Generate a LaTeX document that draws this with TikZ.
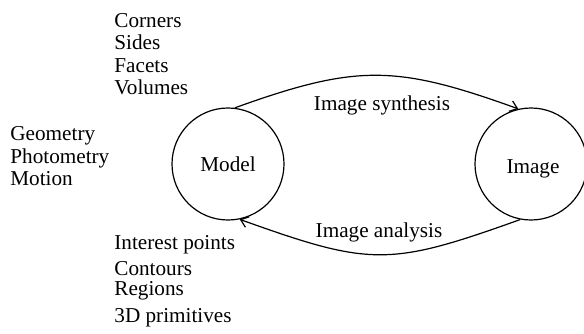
\documentclass[tikz,border=0pt]{standalone}
\usepackage{fontspec}
\setmainfont{Liberation Serif}
\usetikzlibrary{arrows.meta}
\begin{document}
\begin{tikzpicture}[
    x=0.5pt, y=-0.5pt,
    font=\fontsize{10.6}{12}\selectfont,
    blob/.style={draw, circle, line width=0.6pt, minimum size=56pt, inner sep=0pt},
    item/.style={anchor=base west, inner sep=0pt},
    caption/.style={anchor=base, inner sep=0pt},
    flow/.style={-{Straight Barb[length=3.5pt, width=5.5pt]}, line width=0.6pt}
]
\useasboundingbox (0,0) rectangle (584,333);

% The two states
\node[blob] (model) at (228,164) {};
\node[blob] (image) at (531,164) {};
\node[caption] (modeltxt) at (228,171) {Model};
\node[caption] (imagetxt) at (533,173) {Image};

% Synthesis and analysis
\draw[flow] (model.83) .. controls +(122,-44) and +(-122,-44) .. (image.103);
\draw[flow] (image.259) .. controls +(-131,47) and +(131,47) .. (model.282);
\node[caption] (synth) at (382,110) {Image synthesis};
\node[caption] (anal) at (379,237) {Image analysis};

% Model primitives
\node[item] (corners) at (114,27) {Corners};
\node[item] (sides) at (114,49) {Sides};
\node[item] (facets) at (114,72) {Facets};
\node[item] (volumes) at (114,94) {Volumes};

% Model attributes
\node[item] (geometry) at (10,140) {Geometry};
\node[item] (photometry) at (10,163) {Photometry};
\node[item] (motion) at (10,185) {Motion};

% Image features
\node[item] (interest) at (114,249) {Interest points};
\node[item] (contours) at (114,275) {Contours};
\node[item] (regions) at (114,295) {Regions};
\node[item] (prims) at (114,322) {3D primitives};
\end{tikzpicture}
\end{document}
